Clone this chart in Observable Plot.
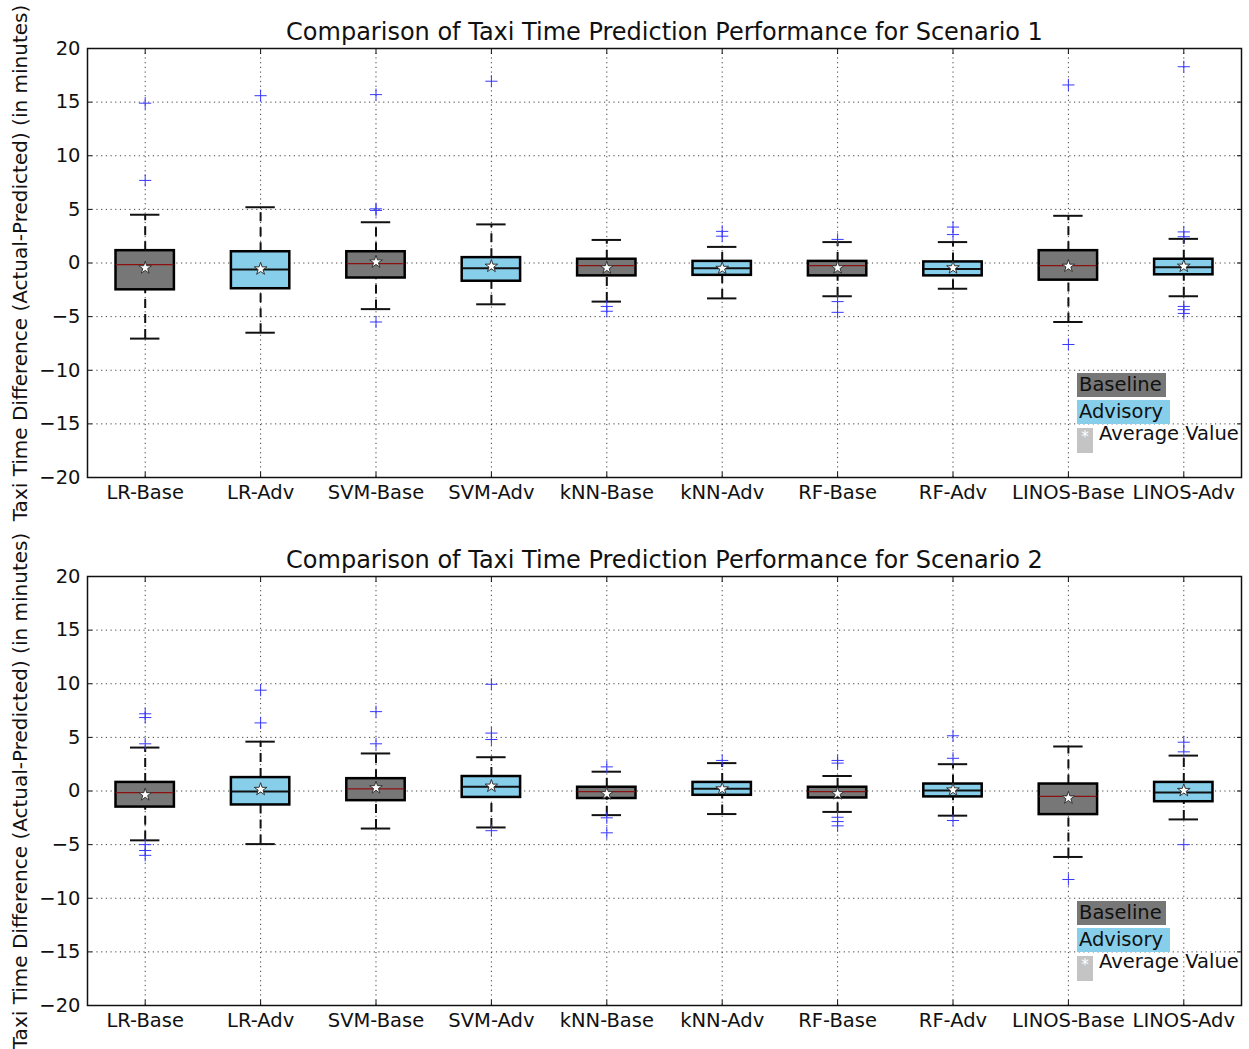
<!DOCTYPE html>
<html><head><meta charset="utf-8">
<script src="https://cdn.jsdelivr.net/npm/d3@7"></script>
<script src="https://cdn.jsdelivr.net/npm/@observablehq/plot@0.6"></script>
<style>
body{margin:0;background:#fff;font-family:"DejaVu Sans",sans-serif;}
.panel{position:relative;width:1249px;}
.panel svg{display:block;}
.leg{position:absolute;left:0;top:0;width:0;height:0;font-size:19.5px;line-height:24px;color:#111;white-space:nowrap;}
.leg .b{position:absolute;left:1077px;top:373px;width:89px;height:24px;background:#777;padding-left:2px;box-sizing:border-box;}
.leg .a{position:absolute;left:1077px;top:400px;width:93px;height:24px;background:#87ceeb;padding-left:2px;box-sizing:border-box;}
.leg .p{position:absolute;left:1077px;top:428px;width:16px;height:25px;background:#c4c4c4;color:#fff;font-size:15px;line-height:18px;text-align:center;}
.leg .t{position:absolute;left:1099px;top:422px;}
</style></head><body><div id="root"></div>
<script>
const categories = ["LR-Base","LR-Adv","SVM-Base","SVM-Adv","kNN-Base","kNN-Adv","RF-Base","RF-Adv","LINOS-Base","LINOS-Adv"];
const groups = ["Baseline","Advisory","Baseline","Advisory","Baseline","Advisory","Baseline","Advisory","Baseline","Advisory"];
const titles = ["Comparison of Taxi Time Prediction Performance for Scenario 1","Comparison of Taxi Time Prediction Performance for Scenario 2"];
const yLabel = "Taxi Time Difference (Actual-Predicted) (in minutes)";
const yTicks = [-20,-15,-10,-5,0,5,10,15,20];
const legendLabels = ["Baseline","Advisory","Average Value"];

// Scenario 1
const s1WhiskerLow  = [-7.05,-6.5,-4.3,-3.85,-3.6,-3.3,-3.1,-2.4,-5.5,-3.1];
const s1Q1          = [-2.5,-2.4,-1.4,-1.7,-1.2,-1.15,-1.2,-1.2,-1.6,-1.1];
const s1Median      = [-0.15,-0.6,-0.05,-0.5,-0.25,-0.5,-0.25,-0.55,-0.25,-0.4];
const s1Q3          = [1.15,1.05,1.05,0.5,0.35,0.15,0.15,0.1,1.15,0.35];
const s1WhiskerHigh = [4.5,5.2,3.8,3.6,2.15,1.5,1.95,1.95,4.4,2.25];
const s1Mean        = [-0.45,-0.55,0.1,-0.3,-0.45,-0.5,-0.45,-0.45,-0.3,-0.3];
const s1Outliers    = [[14.9,7.7],[15.6],[15.7,5.05,4.9,-5.5],[16.95],[-4.05,-4.5],[2.95,2.5],[2.2,-3.6,-4.6],[3.35,2.65],[16.6,-7.6],[18.3,2.9,2.45,-4.05,-4.35,-4.7]];

// Scenario 2
const s2WhiskerLow  = [-4.6,-4.95,-3.5,-3.4,-2.25,-2.15,-1.95,-2.3,-6.15,-2.65];
const s2Q1          = [-1.5,-1.3,-0.9,-0.6,-0.7,-0.4,-0.65,-0.55,-2.2,-1.0];
const s2Median      = [-0.15,-0.05,0.2,0.4,-0.05,0.2,-0.05,0.05,-0.5,-0.15];
const s2Q3          = [0.8,1.25,1.15,1.35,0.35,0.8,0.35,0.65,0.65,0.8];
const s2WhiskerHigh = [4.05,4.6,3.5,3.15,1.8,2.6,1.4,2.5,4.15,3.3];
const s2Mean        = [-0.35,0.15,0.3,0.45,-0.25,0.2,-0.25,0.1,-0.65,0.05];
const s2Outliers    = [[7.2,6.85,4.4,-5.0,-5.55,-6.0],[9.4,6.35],[7.4,4.4],[9.95,5.4,4.8,-3.7],[2.25,-2.5,-3.9],[2.85],[2.85,2.6,-2.45,-2.85,-3.25],[5.15,3.05,-2.75],[-8.25],[4.55,3.65,-5.0]];

const fillColors = {Baseline: "#777777", Advisory: "#87ceeb"};
const medianColors = {Baseline: "#8b1010", Advisory: "#111111"};

function buildRows(lo,q1,med,q3,hi,mean){
  return categories.map((c,i)=>({cat:c, group:groups[i], lo:lo[i], q1:q1[i], med:med[i], q3:q3[i], hi:hi[i], mean:mean[i]}));
}
function buildOut(out){
  return out.flatMap((vals,i)=>vals.map(v=>({cat:categories[i], v})));
}

function chart(rows, outs, title, height, marginBottom){
  const gridStyle = {stroke:"#000", strokeOpacity:0.75, strokeDasharray:"1.2,3.5", strokeWidth:1};
  return Plot.plot({
    width: 1249, height, marginLeft: 87, marginRight: 8, marginTop: 48, marginBottom,
    style: {fontFamily: "DejaVu Sans, sans-serif", fontSize: "19px", color: "#111", background: "#fff", overflow: "visible"},
    x: {type: "band", domain: categories, padding: 0, round: false, label: null},
    y: {domain: [-20, 20], label: null},
    marks: [
      Plot.gridY(yTicks, gridStyle),
      Plot.gridX(categories, gridStyle),
      Plot.ruleX(rows, {x:"cat", y1:"q3", y2:"hi", stroke:"#111", strokeWidth:2, strokeDasharray:"9,6"}),
      Plot.ruleX(rows, {x:"cat", y1:"lo", y2:"q1", stroke:"#111", strokeWidth:2, strokeDasharray:"9,6"}),
      Plot.tickY(rows, {x:"cat", y:"hi", stroke:"#111", strokeWidth:2, insetLeft:43, insetRight:43}),
      Plot.tickY(rows, {x:"cat", y:"lo", stroke:"#111", strokeWidth:2, insetLeft:43, insetRight:43}),
      Plot.barY(rows, {x:"cat", y1:"q1", y2:"q3", fill: d=>fillColors[d.group], stroke:"#000", strokeWidth:2.5, insetLeft:28.5, insetRight:28.5}),
      Plot.tickY(rows, {x:"cat", y:"med", stroke: d=>medianColors[d.group], strokeWidth: d=>d.group==="Baseline"?1.3:2, insetLeft:29, insetRight:29}),
      Plot.dot(rows, {x:"cat", y:"mean", symbol:"star", r:4, fill:"#fff", stroke:"#333", strokeWidth:1}),
      Plot.dot(outs, {x:"cat", y:"v", symbol:"plus", r:4, stroke:"#3838ff", strokeWidth:1}),
      Plot.frame({stroke:"#111", strokeWidth:1.5}),
      Plot.axisY(yTicks, {anchor:"left", tickSize:0, tickPadding:7, fontSize:19.5}),
      Plot.axisY(yTicks, {anchor:"left", tickSize:-5, fill:"none", stroke:"#111"}),
      Plot.axisY(yTicks, {anchor:"right", tickSize:-5, fill:"none", stroke:"#111"}),
      Plot.axisX(categories, {anchor:"bottom", tickSize:0, tickPadding:8, fontSize:19.5}),
      Plot.axisX(categories, {anchor:"bottom", tickSize:-5, fill:"none", stroke:"#111"}),
      Plot.axisX(categories, {anchor:"top", tickSize:-5, fill:"none", stroke:"#111"}),
      Plot.text([title], {frameAnchor:"top", dy:-16, lineAnchor:"middle", fontSize:24, fill:"#111"}),
      Plot.text([yLabel], {frameAnchor:"left", rotate:-90, dx:-67, textAnchor:"middle", lineAnchor:"middle", fontSize:20, fill:"#111"})
    ]
  });
}

function panel(svg){
  const div = document.createElement("div");
  div.className = "panel";
  div.appendChild(svg);
  const leg = document.createElement("div");
  leg.className = "leg";
  leg.innerHTML = `<div class="b">${legendLabels[0]}</div><div class="a">${legendLabels[1]}</div><div class="p">*</div><div class="t">${legendLabels[2]}</div>`;
  div.appendChild(leg);
  document.getElementById("root").appendChild(div);
}

panel(chart(buildRows(s1WhiskerLow,s1Q1,s1Median,s1Q3,s1WhiskerHigh,s1Mean), buildOut(s1Outliers), titles[0], 528, 51));
panel(chart(buildRows(s2WhiskerLow,s2Q1,s2Median,s2Q3,s2WhiskerHigh,s2Mean), buildOut(s2Outliers), titles[1], 521, 44));
</script></body></html>
